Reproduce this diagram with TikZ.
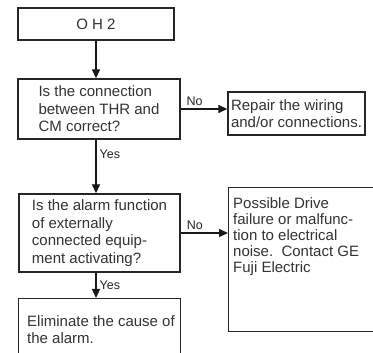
\documentclass[tikz,border=0pt]{standalone}
\usepackage{fontspec}
\setmainfont{Liberation Sans}
\usetikzlibrary{arrows.meta,calc}
\begin{document}
\begin{tikzpicture}[x=1pt,y=-1pt,
  box/.style={draw=black!85,line width=1.4pt,rectangle,inner sep=0pt,align=left,
    text=black!80,font=\fontsize{15}{17.5}\selectfont},
  txt/.style={inner sep=0pt,align=left,text=black!80,font=\fontsize{15}{17.5}\selectfont},
  lbl/.style={inner sep=0pt,text=black!85,font=\fontsize{12.5}{14}\selectfont},
  conn/.style={draw=black!90,line width=1.4pt},
  arr/.style={conn,-{Triangle[length=9pt,width=8pt]}}]
\useasboundingbox (0,0) rectangle (373,353);
\clip (0,0) rectangle (373,353);
\fill[white] (0,0) rectangle (373,353);
\node[box,minimum width=156pt,minimum height=32pt] (b1) at (96,24) {O H 2};
\node[box,minimum width=162pt,minimum height=60pt] (b2) at (99,109)
  {Is the connection\\between THR and\\CM correct?};
\node[box,minimum width=137pt,minimum height=43pt] (b3) at (296.5,113.5)
  {Repair the wiring\\and/or connections.};
\node[box,minimum width=161pt,minimum height=78pt] (b4) at (99.5,233)
  {Is the alarm function\\of externally\\connected equip-\\ment activating?};
\node[box,minimum width=162pt,minimum height=90pt,anchor=north west] (b5) at (18,298) {};
\node[box,minimum width=180pt,minimum height=144pt,anchor=north west] (b6) at (228,187) {};
\node[txt,anchor=north west] (t5) at ($(b5.north west)+(9,17)$)
  {Eliminate the cause of\\the alarm.};
\node[txt,anchor=north west,font=\fontsize{15}{16}\selectfont] (t6) at ($(b6.north west)+(5,10)$)
  {Possible Drive\\failure or malfunc-\\tion to electrical\\noise.\ \ Contact GE\\Fuji Electric};
% connectors
\draw[arr] (b1.south) -- (b1.south |- b2.north);
\draw[arr] (b1.south |- b2.south) -- (b1.south |- b4.north)
  node[lbl,pos=0.27,right=3pt] (y1) {Yes};
\draw[arr] (b1.south |- b4.south) -- (b1.south |- b5.north)
  node[lbl,midway,right=3pt] (y2) {Yes};
\draw[arr] (b2.east) -- (b2.east -| b3.west)
  node[lbl,pos=0.3,above=3pt] (n1) {No};
\draw[arr] (b4.east) -- (b4.east -| b6.west)
  node[lbl,pos=0.3,above=3pt] (n2) {No};
\end{tikzpicture}
\end{document}
